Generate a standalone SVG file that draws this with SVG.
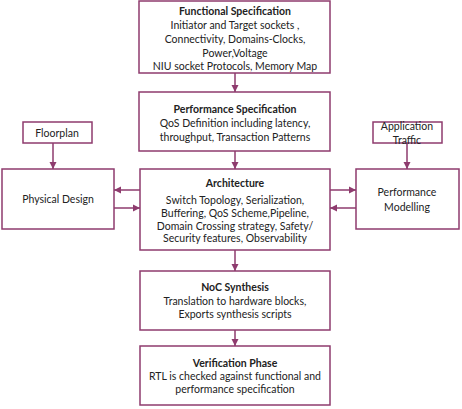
<svg xmlns="http://www.w3.org/2000/svg" width="462" height="409" viewBox="0 0 462 409">
<style>
rect.box{fill:#fff;stroke:#8E3B6E;stroke-width:1.5}
text{font-family:Lato,"Open Sans",sans-serif;font-size:10.5px;fill:#222;text-anchor:middle}
text.t{font-weight:bold}
.c line{stroke:#8E3B6E;stroke-width:1.5;marker-end:url(#ah)}
</style>
<defs>
<marker id="ah" markerWidth="8" markerHeight="8" refX="7" refY="4" orient="auto" markerUnits="userSpaceOnUse">
<path d="M0,0.5 L7,4 L0,7.5 Z" fill="#8E3B6E"/>
</marker>
</defs>
<rect width="462" height="409" fill="#fff"/>
<g class="c" id="connectors">
<line x1="235" y1="73" x2="235" y2="92"/>
<line x1="235" y1="151" x2="235" y2="169"/>
<line x1="235" y1="250" x2="235" y2="271"/>
<line x1="235" y1="330" x2="235" y2="346"/>
<line x1="53" y1="143" x2="53" y2="169"/>
<line x1="407" y1="143" x2="407" y2="169"/>
<line x1="140" y1="190" x2="114" y2="190"/>
<line x1="114" y1="208" x2="140" y2="208"/>
<line x1="330" y1="190" x2="356" y2="190"/>
<line x1="356" y1="208" x2="330" y2="208"/>
</g>
<g id="functional">
<rect class="box" x="139" y="1" width="191" height="72"/>
<text class="t" x="235" y="15">Functional Specification</text>
<text x="235" y="29">Initiator and Target sockets ,</text>
<text x="235" y="43">Connectivity, Domains-Clocks,</text>
<text x="235" y="57">Power,Voltage</text>
<text x="235" y="70">NIU socket Protocols, Memory Map</text>
</g>
<g id="performance">
<rect class="box" x="139" y="92" width="191" height="59"/>
<text class="t" x="235" y="113">Performance Specification</text>
<text x="235" y="127">QoS Definition including latency,</text>
<text x="235" y="141">throughput, Transaction Patterns</text>
</g>
<g id="architecture">
<rect class="box" x="140" y="169" width="190" height="81"/>
<text class="t" x="235" y="187">Architecture</text>
<text x="235" y="204">Switch Topology, Serialization,</text>
<text x="235" y="217">Buffering, QoS Scheme,Pipeline,</text>
<text x="235" y="230">Domain Crossing strategy, Safety/</text>
<text x="235" y="242">Security features, Observability</text>
</g>
<g id="floorplan">
<rect class="box" x="23" y="122" width="69" height="21"/>
<text x="57" y="137">Floorplan</text>
</g>
<g id="physical">
<rect class="box" x="2" y="169" width="112" height="60"/>
<text x="58" y="203">Physical Design</text>
</g>
<g id="apptraffic">
<rect class="box" x="373" y="122" width="69" height="21"/>
<text x="407" y="130">Application</text>
<text x="407" y="144">Traffic</text>
</g>
<g id="perfmodel">
<rect class="box" x="356" y="169" width="103" height="60"/>
<text x="407" y="196">Performance</text>
<text x="407" y="211">Modelling</text>
</g>
<g id="noc">
<rect class="box" x="140" y="271" width="190" height="59"/>
<text class="t" x="235" y="291">NoC Synthesis</text>
<text x="235" y="305">Translation to hardware blocks,</text>
<text x="235" y="318">Exports synthesis scripts</text>
</g>
<g id="verification">
<rect class="box" x="140" y="346" width="190" height="59"/>
<text class="t" x="235" y="367">Verification Phase</text>
<text x="235" y="380">RTL is checked against functional and</text>
<text x="235" y="393">performance specification</text>
</g>
</svg>
